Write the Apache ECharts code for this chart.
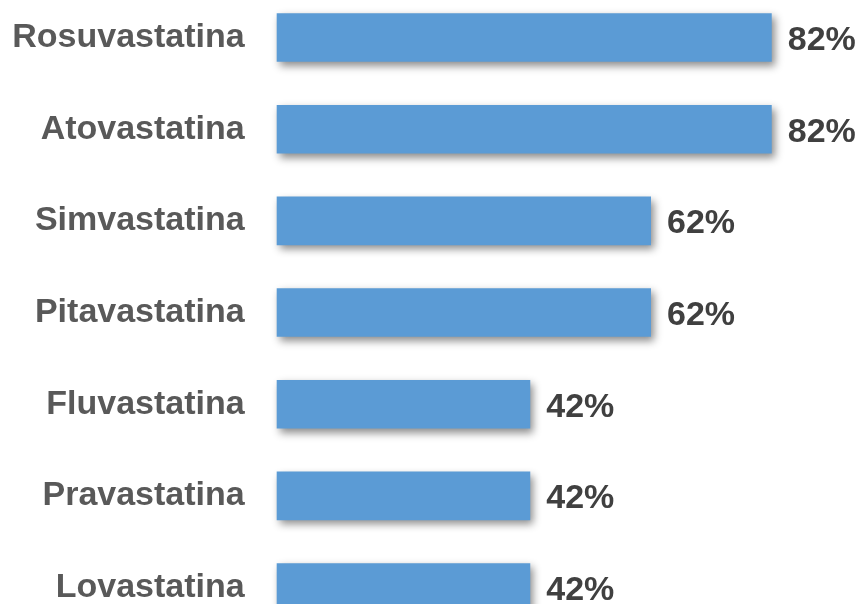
<!DOCTYPE html>
<html>
<head>
<meta charset="utf-8">
<script src="https://cdn.jsdelivr.net/npm/echarts@6/dist/echarts.min.js"></script>
<style>
html,body{margin:0;padding:0;background:#fff;}
#chart{width:860px;height:604px;}
</style>
</head>
<body>
<div id="chart"></div>
<script>
const categories = ['Rosuvastatina','Atovastatina','Simvastatina','Pitavastatina','Fluvastatina','Pravastatina','Lovastatina'];
const values = [82, 82, 62, 62, 42, 42, 42];

const chart = echarts.init(document.getElementById('chart'), null, {renderer:'canvas'});
chart.setOption({
  animation: false,
  backgroundColor: '#ffffff',
  grid: {left: 276.7, width: 603.7, top: -8.3, height: 641.7, containLabel: false, outerBoundsMode: 'none'},
  xAxis: {type: 'value', min: 0, max: 100, show: false},
  yAxis: {
    type: 'category', data: categories, inverse: true,
    axisLine: {show: false}, axisTick: {show: false}, splitLine: {show: false},
    axisLabel: {
      margin: 32, color: '#595959', fontSize: 34, fontWeight: 'bold',
      fontFamily: 'Liberation Sans, Arial, sans-serif'
    }
  },
  series: [{
    type: 'bar', data: values, barCategoryGap: '47%',
    itemStyle: {
      color: '#5B9BD5',
      shadowColor: 'rgba(0,0,0,0.45)', shadowBlur: 8, shadowOffsetX: 3, shadowOffsetY: 4
    },
    label: {
      show: true, position: 'right', distance: 16, offset: [0, 3],
      formatter: p => p.value + '%',
      color: '#404040', fontSize: 34, fontWeight: 'bold',
      fontFamily: 'Liberation Sans, Arial, sans-serif'
    }
  }]
});
</script>
</body>
</html>
